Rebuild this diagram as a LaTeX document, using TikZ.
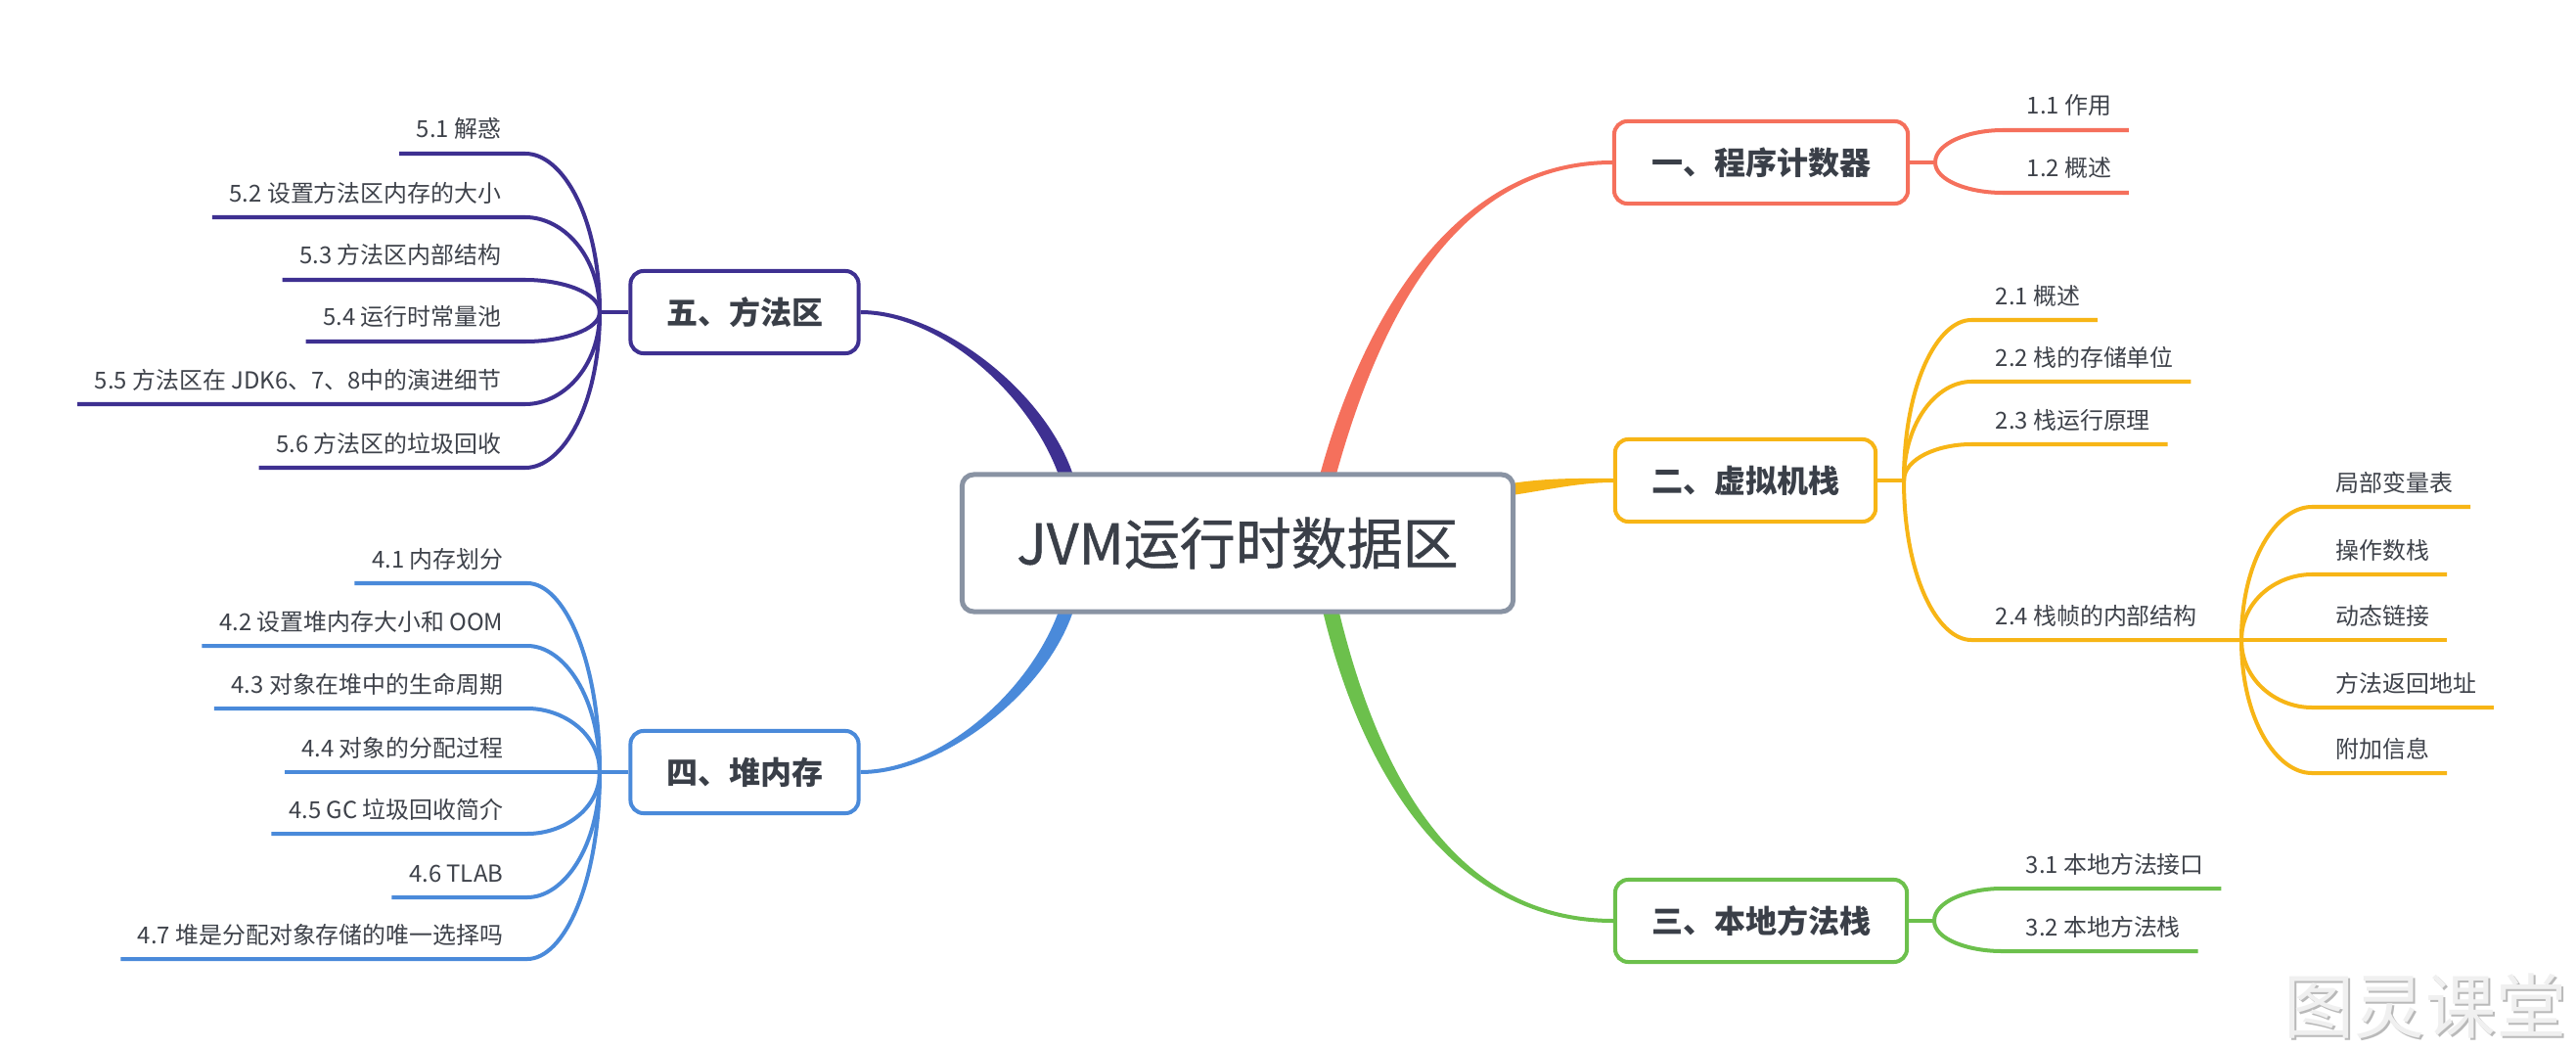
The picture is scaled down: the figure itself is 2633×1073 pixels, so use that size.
\documentclass[tikz,border=0pt]{standalone}
\usepackage{fontspec}
\setmainfont{Noto Sans CJK SC}
\newfontfamily\midfont[FakeBold=0.9]{Noto Sans CJK SC}
\usetikzlibrary{calc}
\definecolor{cred}{RGB}{245,112,92}
\definecolor{corange}{RGB}{247,181,22}
\definecolor{cgreen}{RGB}{108,192,76}
\definecolor{cblue}{RGB}{74,138,218}
\definecolor{cpurple}{RGB}{62,48,145}
\definecolor{cgray}{RGB}{137,147,163}
\definecolor{ctxt}{RGB}{58,63,72}
\definecolor{ltxt}{RGB}{62,66,74}
\definecolor{wmshadow}{RGB}{185,185,185}
\definecolor{wmfill}{RGB}{240,240,240}
\pgfdeclarelayer{bg}
\pgfsetlayers{bg,main}
\tikzset{
  central/.style={draw=cgray, line width=1.42pt, rounded corners=3.4pt, fill=white,
    minimum width=5.63cm, minimum height=1.40cm, inner sep=0pt, text=ctxt,
    font=\midfont\fontsize{16.2}{18}\selectfont},
  topic/.style={line width=1.14pt, rounded corners=3.8pt, fill=white,
    minimum height=0.84cm, inner sep=0pt, text=ctxt,
    font=\bfseries\fontsize{9.1}{11}\selectfont},
  lbl/.style={inner sep=0pt, text=ltxt, font=\fontsize{6.8}{8}\selectfont},
  sub/.style={line width=1.14pt},
  wmark/.style={inner sep=0pt, font=\fontsize{20.5}{22}\selectfont},
}
% tapered main branch: colour, start, control 1, control 2, end, half width start, half width end
\newcommand\taper[7]{%
  \coordinate (tA) at (#2);
  \coordinate (tB) at (#3);
  \coordinate (tC) at (#4);
  \coordinate (tD) at (#5);
  \coordinate (tA1) at ($(tA)!#6!90:(tB)$);
  \coordinate (tA2) at ($(tA)!#6!-90:(tB)$);
  \coordinate (tD1) at ($(tD)!#7!-90:(tC)$);
  \coordinate (tD2) at ($(tD)!#7!90:(tC)$);
  \fill[#1] (tA1) .. controls ($(tB)+(tA1)-(tA)$) and ($(tC)+(tD1)-(tD)$) .. (tD1)
    -- (tD2) .. controls ($(tC)+(tD2)-(tD)$) and ($(tB)+(tA2)-(tA)$) .. (tA2) -- cycle;
}
% right sub-branch: colour, junction, x where horizontal starts, y of line, name, text
\newcommand\rsub[6]{%
  \node[lbl, anchor=base west] (#5) at ({#3+24},{#4-16}) {#6};
  \draw[sub,#1] let \p1=(#2), \p2=(#3,#4) in
    (\p1) .. controls (\x1,{\y1+0.6*(\y2-\y1)}) and ({\x1+0.5*(\x2-\x1)},\y2) .. (\p2)
    -- ($(#5.base east)+(17,16)$);
}
% left sub-branch
\newcommand\lsub[6]{%
  \node[lbl, anchor=base east] (#5) at ({#3-24},{#4-16}) {#6};
  \draw[sub,#1] let \p1=(#2), \p2=(#3,#4) in
    (\p1) .. controls (\x1,{\y1+0.6*(\y2-\y1)}) and ({\x1+0.5*(\x2-\x1)},\y2) .. (\p2)
    -- ($(#5.base west)+(-17,16)$);
}
\begin{document}
\begin{tikzpicture}[x=0.01cm, y=-0.01cm]
\useasboundingbox (0,0) rectangle (2633,1073);
% central and main topics
\node[central] (c) at (1265,555) {JVM运行时数据区};
\node[topic, draw=cred, minimum width=3.00cm] (n1) at (1800,166) {一、程序计数器};
\node[topic, draw=corange, minimum width=2.66cm] (n2) at (1784,491) {二、虚拟机栈};
\node[topic, draw=cgreen, minimum width=2.98cm] (n3) at (1800,941) {三、本地方法栈};
\node[topic, draw=cblue, minimum width=2.33cm] (n4) at (761,789) {四、堆内存};
\node[topic, draw=cpurple, minimum width=2.33cm] (n5) at (761,319) {五、方法区};
% main branches
\begin{pgfonlayer}{bg}
\fill[white] (0,0) rectangle (2633,1073);
\taper{cred}{[xshift=0.92cm,yshift=-0.04cm]c.north}{1400,330}{1485,166}{n1.west}{0.08cm}{0.02cm}
\taper{cgreen}{[xshift=0.95cm,yshift=0.04cm]c.south}{1400,790}{1485,941}{n3.west}{0.08cm}{0.02cm}
\taper{cpurple}{[xshift=-1.75cm,yshift=-0.04cm]c.north}{1060,400}{960,319}{n5.east}{0.07cm}{0.02cm}
\taper{cblue}{[xshift=-1.75cm,yshift=0.04cm]c.south}{1060,710}{960,789}{n4.east}{0.07cm}{0.02cm}
\taper{corange}{[xshift=-0.04cm,yshift=0.55cm]c.east}{1585,494}{1615,491}{n2.west}{0.06cm}{0.02cm}
\end{pgfonlayer}
% junctions
\coordinate (j1) at (1978,166);
\coordinate (j2) at (1946,491);
\coordinate (j3) at (1977,941);
\coordinate (j4) at (613,789);
\coordinate (j5) at (613,319);
\coordinate (j24) at (2291,654);
\draw[sub,cred] (n1.east) -- (j1);
\draw[sub,corange] (n2.east) -- (j2);
\draw[sub,cgreen] (n3.east) -- (j3);
\draw[sub,cblue] (n4.west) -- (j4);
\draw[sub,cpurple] (n5.west) -- (j5);
% 1
\rsub{cred}{j1}{2047}{133}{l11}{1.1 作用}
\rsub{cred}{j1}{2047}{197}{l12}{1.2 概述}
% 2
\rsub{corange}{j2}{2015}{327}{l21}{2.1 概述}
\rsub{corange}{j2}{2015}{390}{l22}{2.2 栈的存储单位}
\rsub{corange}{j2}{2015}{454}{l23}{2.3 栈运行原理}
\node[lbl, anchor=base west] (l24) at (2039,638) {2.4 栈帧的内部结构};
\draw[sub,corange] let \p1=(j2), \p2=(2015,654) in
  (\p1) .. controls (\x1,{\y1+0.6*(\y2-\y1)}) and ({\x1+0.5*(\x2-\x1)},\y2) .. (\p2) -- (j24);
\rsub{corange}{j24}{2363}{518}{l241}{局部变量表}
\rsub{corange}{j24}{2363}{587}{l242}{操作数栈}
\rsub{corange}{j24}{2363}{654}{l243}{动态链接}
\rsub{corange}{j24}{2363}{723}{l244}{方法返回地址}
\rsub{corange}{j24}{2363}{790}{l245}{附加信息}
% 3
\rsub{cgreen}{j3}{2046}{908}{l31}{3.1 本地方法接口}
\rsub{cgreen}{j3}{2046}{972}{l32}{3.2 本地方法栈}
% 5
\lsub{cpurple}{j5}{537}{157}{l51}{5.1 解惑}
\lsub{cpurple}{j5}{537}{222}{l52}{5.2 设置方法区内存的大小}
\lsub{cpurple}{j5}{537}{286}{l53}{5.3 方法区内部结构}
\lsub{cpurple}{j5}{537}{349}{l54}{5.4 运行时常量池}
\lsub{cpurple}{j5}{537}{413}{l55}{5.5 方法区在 JDK6、7、8中的演进细节}
\lsub{cpurple}{j5}{537}{478}{l56}{5.6 方法区的垃圾回收}
% 4
\lsub{cblue}{j4}{539}{596}{l41}{4.1 内存划分}
\lsub{cblue}{j4}{539}{660}{l42}{4.2 设置堆内存大小和 OOM}
\lsub{cblue}{j4}{539}{724}{l43}{4.3 对象在堆中的生命周期}
\lsub{cblue}{j4}{539}{789}{l44}{4.4 对象的分配过程}
\lsub{cblue}{j4}{539}{852}{l45}{4.5 GC 垃圾回收简介}
\lsub{cblue}{j4}{539}{917}{l46}{4.6 TLAB}
\lsub{cblue}{j4}{539}{980}{l47}{4.7 堆是分配对象存储的唯一选择吗}
% watermark
\node[wmark, text=wmshadow] (wm0) at (2481,1030) {图灵课堂};
\node[wmark, text=wmfill] (wm) at (2479,1028) {图灵课堂};
\end{tikzpicture}
\end{document}
